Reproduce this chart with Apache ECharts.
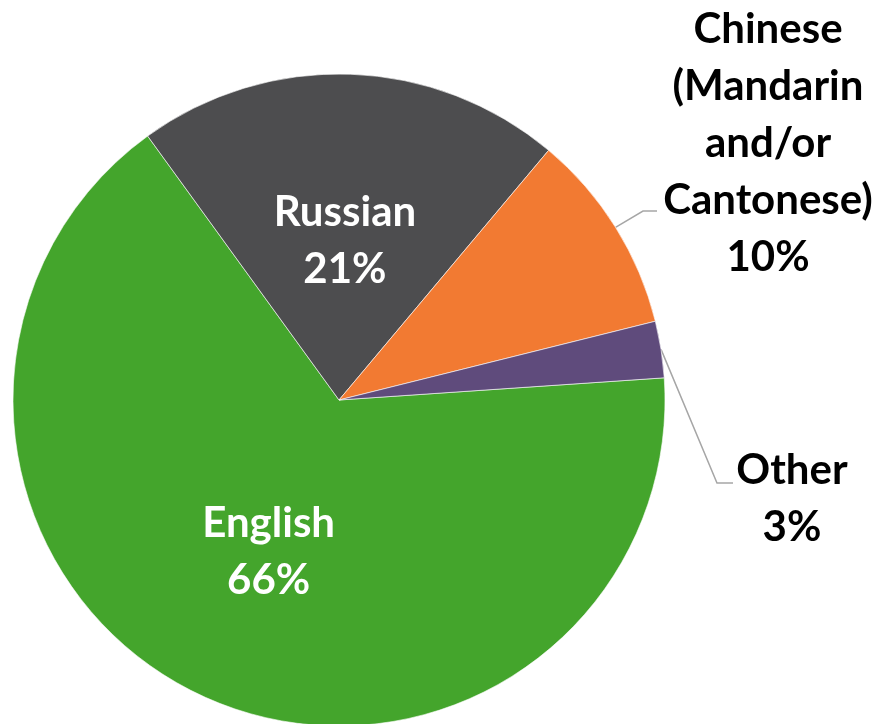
<!DOCTYPE html>
<html>
<head>
<meta charset="utf-8">
<script src="https://cdn.jsdelivr.net/npm/echarts@6/dist/echarts.min.js"></script>
<style>
  html, body { margin: 0; padding: 0; background: #fff; }
  #chart { width: 879px; height: 724px; }
</style>
</head>
<body>
<div id="chart"></div>
<script>
// language shares
const languages = ['English', 'Russian', 'Chinese (Mandarin and/or Cantonese)', 'Other']
const labelText = ['English', 'Russian', 'Chinese\n(Mandarin\nand/or\nCantonese)', 'Other']
const shares = [66.1, 21.1, 10.0, 2.8]
const colors = ['#44A52C', '#4D4D4F', '#F27A32', '#5F4B7C']
const insideLabel = [true, true, false, false]

// where the outside labels sit and where their leader lines bend
const outsidePlace = {
  2: { x: 768, y: 143, knee: [643, 211], end: [657, 211] },
  3: { x: 792, y: 499, knee: [717, 483], end: [733, 483] },
}
// small vertical nudge for the inside labels
const insideShift = { 0: 2, 1: 7 }

const chart = echarts.init(document.getElementById('chart'))

chart.setOption({
  animation: false,
  series: [{
    type: 'pie',
    center: [339, 400],
    radius: 326,
    startAngle: 3.9,
    clockwise: true,
    percentPrecision: 0,
    avoidLabelOverlap: false,
    itemStyle: { borderColor: '#fff', borderWidth: 0.6 },
    label: {
      fontFamily: 'Lato',
      fontWeight: 'bold',
      fontSize: 42,
      lineHeight: 57,
      align: 'center',
      formatter: p => `${labelText[p.dataIndex]}\n${p.percent}%`,
    },
    labelLine: {
      show: true,
      smooth: false,
      length: 30,
      length2: 15,
      lineStyle: { color: '#A6A6A6', width: 1.5 },
    },
    labelLayout: params => {
      const place = outsidePlace[params.dataIndex]
      if (!place) return { dy: insideShift[params.dataIndex] || 0 }
      const start = params.labelLinePoints ? params.labelLinePoints[0] : place.knee
      return {
        x: place.x,
        y: place.y,
        align: 'center',
        verticalAlign: 'middle',
        labelLinePoints: [start, place.knee, place.end],
      }
    },
    data: languages.map((name, i) => ({
      name,
      value: shares[i],
      itemStyle: { color: colors[i] },
      label: insideLabel[i]
        ? { position: 'inside', color: '#fff' }
        : { position: 'outside', color: '#000' },
      labelLine: { show: !insideLabel[i] },
    })),
  }],
})
</script>
</body>
</html>
